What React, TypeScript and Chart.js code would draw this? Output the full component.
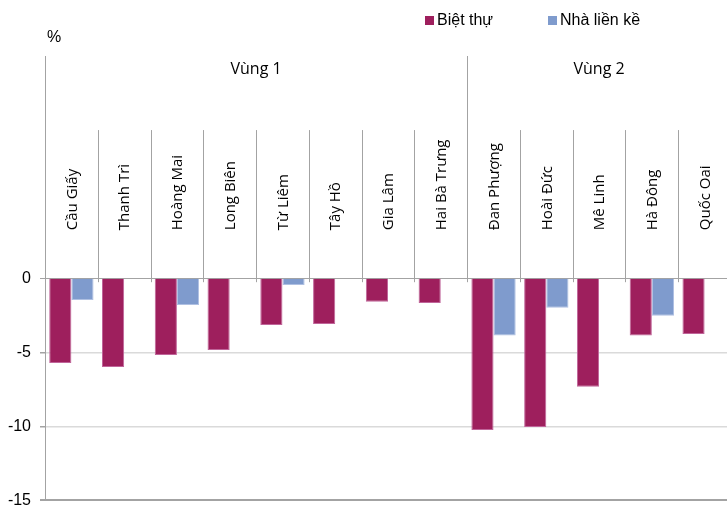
import React, { useEffect, useRef } from "react";
import { Chart, registerables } from "chart.js";

Chart.register(...registerables);

const categories = [
  "Cầu Giấy",
  "Thanh Trì",
  "Hoàng Mai",
  "Long Biên",
  "Từ Liêm",
  "Tây Hồ",
  "Gia Lâm",
  "Hai Bà Trưng",
  "Đan Phượng",
  "Hoài Đức",
  "Mê Linh",
  "Hà Đông",
  "Quốc Oai",
];
const regionNames = ["Vùng 1", "Vùng 2"];
const regionSizes = [8, 5];
const seriesNames = ["Biệt thự", "Nhà liền kề"];
const villaValues = [-5.73, -6.0, -5.19, -4.85, -3.16, -3.09, -1.59, -1.68, -10.24, -10.05, -7.33, -3.86, -3.77];
const rowhouseValues = [-1.47, null, -1.81, null, -0.46, null, null, null, -3.86, -1.99, null, -2.53, null];
const yTickValues = [0, -5, -10, -15];
const yMin = -15;
const yMax = 15;
const unitLabel = "%";

const MAROON = "#9E1F5D";
const MAROON_EDGE = "#C0659A";
const BLUE = "#7F9BCD";
const BLUE_EDGE = "#AFC0E2";
const AXIS_GRAY = "#A3A3A3";
const GRID_GRAY = "#DADADA";
const LABEL_FONT = "'Open Sans', 'Noto Sans', sans-serif";
const ARIAL = "'Liberation Sans', Arial, sans-serif";

const decorPlugin = {
  id: "decor",
  afterDraw(chart: any) {
    const ctx = chart.ctx;
    const xs = chart.scales.x;
    const ys = chart.scales.y;
    const area = chart.chartArea;
    const y0 = ys.getPixelForValue(0);
    const ySep = ys.getPixelForValue(10);
    const n = categories.length;
    const half = (xs.getPixelForValue(1) - xs.getPixelForValue(0)) / 2;

    const regionBounds: number[] = [];
    let acc = 0;
    regionSizes.forEach((s) => {
      acc += s;
      regionBounds.push(acc);
    });

    ctx.save();
    ctx.strokeStyle = AXIS_GRAY;
    ctx.lineWidth = 1;
    for (let i = 1; i <= n; i++) {
      const bx = Math.round(xs.getPixelForValue(i - 1) + half) + 0.5;
      const isRegion = regionBounds.includes(i);
      ctx.beginPath();
      ctx.moveTo(bx, isRegion ? area.top : ySep);
      ctx.lineTo(bx, y0 + 4);
      ctx.stroke();
    }

    // category labels (rotated)
    ctx.fillStyle = "#000";
    ctx.font = `15px ${LABEL_FONT}`;
    ctx.textAlign = "left";
    ctx.textBaseline = "middle";
    for (let i = 0; i < n; i++) {
      const cx = xs.getPixelForValue(i);
      ctx.save();
      ctx.translate(cx + 1, y0 - 48);
      ctx.rotate(-Math.PI / 2);
      ctx.fillText(categories[i], 0, 0);
      ctx.restore();
    }

    // region labels
    ctx.font = `16px ${LABEL_FONT}`;
    ctx.textAlign = "center";
    let start = 0;
    regionSizes.forEach((s, r) => {
      const left = xs.getPixelForValue(start) - half;
      const right = xs.getPixelForValue(start + s - 1) + half;
      ctx.fillText(regionNames[r], (left + right) / 2, area.top + 13);
      start += s;
    });

    // unit label
    ctx.font = `16px ${ARIAL}`;
    ctx.textAlign = "left";
    ctx.fillText(unitLabel, 47, 38);

    // legend
    const legendItems = [
      { x: 425, color: MAROON },
      { x: 548, color: BLUE },
    ];
    legendItems.forEach((it, k) => {
      ctx.fillStyle = it.color;
      ctx.fillRect(it.x, 16, 9, 9);
      ctx.fillStyle = "#000";
      ctx.fillText(seriesNames[k], it.x + 12, 20.5);
    });
    ctx.restore();
  },
};

export default function App() {
  const ref = useRef<HTMLCanvasElement | null>(null);

  useEffect(() => {
    if (!ref.current) return;
    const chart = new Chart(ref.current, {
      type: "bar",
      data: {
        labels: categories,
        datasets: [
          {
            label: seriesNames[0],
            data: villaValues,
            backgroundColor: MAROON,
            borderColor: MAROON_EDGE,
            borderWidth: 1,
            categoryPercentage: 0.84,
            barPercentage: 1,
          },
          {
            label: seriesNames[1],
            data: rowhouseValues as any,
            backgroundColor: BLUE,
            borderColor: BLUE_EDGE,
            borderWidth: 1,
            categoryPercentage: 0.84,
            barPercentage: 1,
          },
        ],
      },
      options: {
        responsive: false,
        animation: false,
        devicePixelRatio: 1,
        layout: { padding: { top: 56, left: 0, right: 0, bottom: 0 } },
        plugins: {
          legend: { display: false },
          tooltip: { enabled: false },
        },
        scales: {
          x: {
            display: false,
            offset: true,
          },
          y: {
            min: yMin,
            max: yMax,
            afterBuildTicks: (scale: any) => {
              scale.ticks = yTickValues.map((v) => ({ value: v }));
            },
            afterFit: (scale: any) => {
              scale.width = 45;
            },
            ticks: {
              color: "#000",
              font: { family: ARIAL, size: 16 },
              padding: 9,
            },
            grid: {
              drawTicks: true,
              tickLength: 5,
              tickColor: AXIS_GRAY,
              color: (c: any) => {
                const v = c.tick ? c.tick.value : null;
                if (v === 0 || v === -15) return AXIS_GRAY;
                return GRID_GRAY;
              },
              lineWidth: (c: any) => {
                const v = c.tick ? c.tick.value : null;
                if (v === -15) return 2;
                if (v === 0) return 1;
                return 1.5;
              },
            },
            border: { display: true, color: AXIS_GRAY, width: 1 },
          },
        },
      },
      plugins: [decorPlugin],
    });
    return () => chart.destroy();
  }, []);

  return (
    <div
      style={{
        position: "fixed",
        left: 0,
        top: 0,
        width: 727,
        height: 506,
        overflow: "hidden",
        background: "#fff",
      }}
    >
      <canvas ref={ref} width={731} height={519} style={{ display: "block" }} />
    </div>
  );
}
